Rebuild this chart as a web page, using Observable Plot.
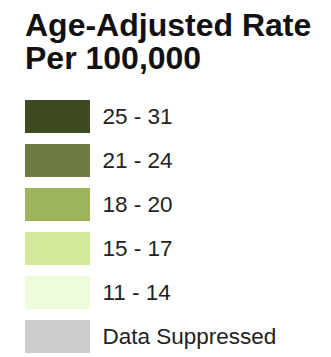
<!DOCTYPE html>
<html>
<head>
<meta charset="utf-8">
<script src="https://cdn.jsdelivr.net/npm/d3@7"></script>
<script src="https://cdn.jsdelivr.net/npm/@observablehq/plot@0.6"></script>
<style>
  html, body { margin: 0; padding: 0; background: #fff; }
  #title {
    font-family: "Liberation Sans", Arial, sans-serif;
    font-weight: 700;
    font-size: 32px;
    line-height: 33px;
    color: #111;
    padding: 9px 0 0 25px;
    height: 75px;
    box-sizing: border-box;
    white-space: nowrap;
  }
</style>
</head>
<body>
<div id="title"></div>
<div id="chart"></div>
<script>
const titleLines = ["Age-Adjusted Rate", "Per 100,000"];
const labels = ["25 - 31", "21 - 24", "18 - 20", "15 - 17", "11 - 14", "Data Suppressed"];
const colors = ["#3d4a22", "#6d7c41", "#9db45a", "#d4e99b", "#eefcdc", "#cccccc"];

const title = document.getElementById("title");
titleLines.forEach(t => { const d = document.createElement("div"); d.textContent = t; title.appendChild(d); });

const rows = labels.map(label => ({label, key: "swatch"}));

const chart = Plot.plot({
  width: 331,
  height: 282,
  marginTop: 25,
  marginBottom: 4,
  marginLeft: 0,
  marginRight: 0,
  style: {fontFamily: "'Liberation Sans', Arial, sans-serif", background: "#fff"},
  x: {type: "band", domain: ["swatch"], range: [25, 90], padding: 0, axis: null},
  y: {type: "band", domain: labels, paddingInner: 0.25, paddingOuter: 0, axis: null},
  color: {type: "ordinal", domain: labels, range: colors},
  marks: [
    Plot.cell(rows, {x: "key", y: "label", fill: "label", inset: 0}),
    Plot.text(rows, {x: "key", y: "label", text: "label", textAnchor: "start", dx: 44.5, fontSize: 22.5, fill: "#222"})
  ]
});
document.getElementById("chart").appendChild(chart);
</script>
</body>
</html>
